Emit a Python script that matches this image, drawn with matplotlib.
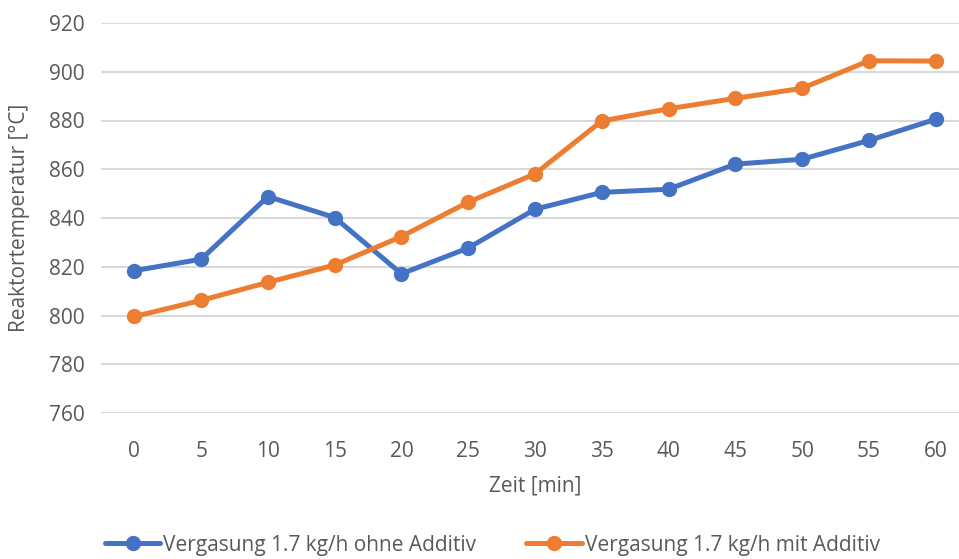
import matplotlib.pyplot as plt

zeit = [0, 5, 10, 15, 20, 25, 30, 35, 40, 45, 50, 55, 60]
ohne_additiv = [818.4, 823.1, 848.8, 840.2, 817.1, 827.7, 843.6,
                850.5, 851.8, 862.1, 864.1, 871.8, 880.5]
mit_additiv = [799.6, 806.2, 813.6, 820.7, 832.4, 846.5, 858.1,
               879.8, 884.8, 889.1, 893.2, 904.5, 904.4]
y_ticks = [760, 780, 800, 820, 840, 860, 880, 900, 920]

label_ohne = 'Vergasung 1.7 kg/h ohne Additiv'
label_mit = 'Vergasung 1.7 kg/h mit Additiv'

BLUE = '#4472C4'
ORANGE = '#ED7D31'
TEXT = '#595959'
GRID = '#D9D9D9'
FS = 15

plt.rcParams['font.family'] = ['Open Sans', 'DejaVu Sans']

W, H = 959, 559
fig = plt.figure(figsize=(W / 100, H / 100), dpi=100)
ax = fig.add_axes([101 / W, 1 - 413 / H, (969 - 101) / W, (413 - 23) / H])

for values, color, label in [
    (ohne_additiv, BLUE, label_ohne),
    (mit_additiv, ORANGE, label_mit),
]:
    ax.plot(zeit, values, color=color, lw=3.6, marker='o', ms=10,
            label=label, solid_capstyle='round', zorder=3)

ax.set_xlim(-2.5, 62.5)
ax.set_ylim(760, 920)
ax.set_xticks(zeit)
ax.set_yticks(y_ticks)
ax.grid(axis='y', color=GRID, lw=1.5)
ax.set_axisbelow(True)
for spine in ax.spines.values():
    spine.set_visible(False)
ax.tick_params(length=0, labelsize=FS, labelcolor=TEXT)
ax.tick_params(axis='x', pad=20)
ax.tick_params(axis='y', pad=12)

ax.set_xlabel('Zeit [min]', fontsize=FS, color=TEXT, labelpad=10)
fig.text(20 / W, 1 - 218 / H, 'Reaktortemperatur [°C]', rotation=90,
         ha='center', va='center', fontsize=FS, color=TEXT)

handles, labels = ax.get_legend_handles_labels()
fig.legend(handles, labels, loc='center left',
           bbox_to_anchor=(105 / W, 1 - 545 / H), ncol=2, frameon=False,
           fontsize=FS, labelcolor=TEXT, handlelength=2.65,
           handletextpad=0.15, columnspacing=2.4, borderpad=0,
           borderaxespad=0)

fig.savefig('out.png', dpi=100)
